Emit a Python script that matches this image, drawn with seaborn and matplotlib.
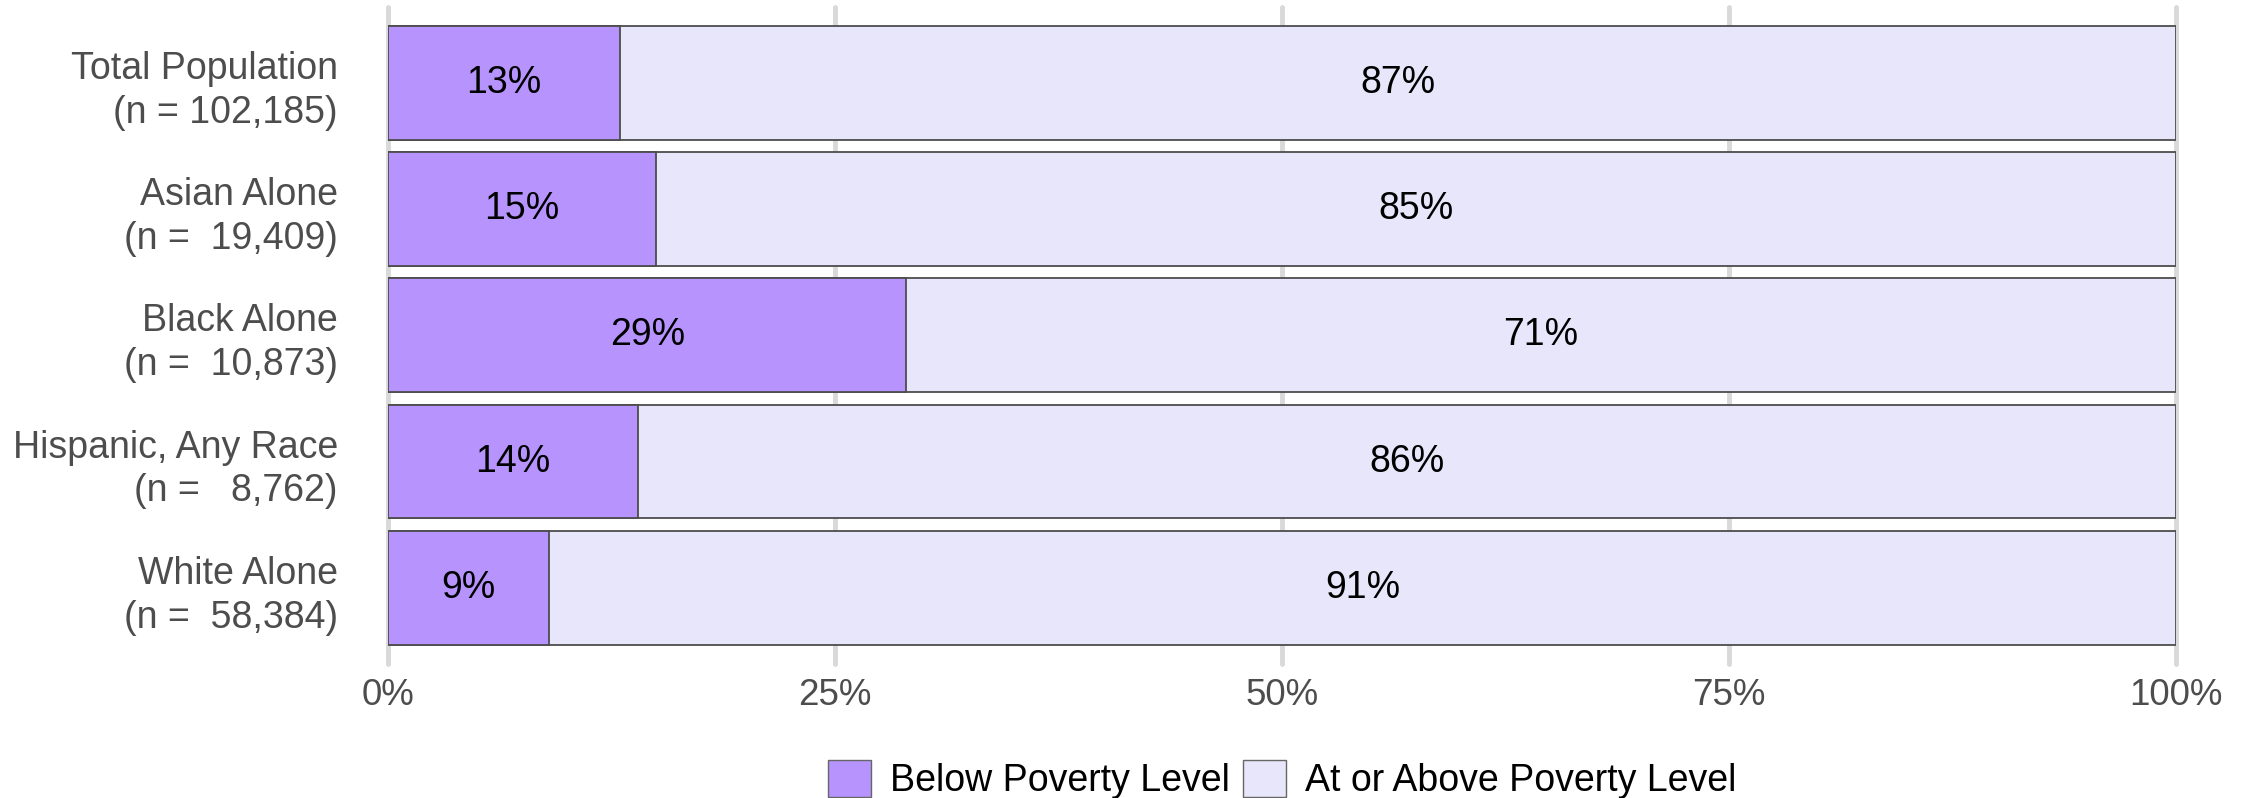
import matplotlib
matplotlib.use("Agg")
import matplotlib.pyplot as plt
from matplotlib.patches import Patch
import seaborn as sns
import pandas as pd

# Poverty status by race / ethnicity (percent of each group)
groups = ["Total Population", "Asian Alone", "Black Alone",
          "Hispanic, Any Race", "White Alone"]
sample_sizes = [102185, 19409, 10873, 8762, 58384]
below_pct = [13, 15, 29, 14, 9]
above_pct = [87, 85, 71, 86, 91]
x_ticks = [0, 25, 50, 75, 100]
x_tick_labels = ["0%", "25%", "50%", "75%", "100%"]
legend_labels = ["Below Poverty Level", "At or Above Poverty Level"]

BELOW_COLOR = "#B794FD"
ABOVE_COLOR = "#E7E6FA"
EDGE_COLOR = "#4D4D4D"
GRID_COLOR = "#D9D9D9"
TEXT_GREY = "#4D4D4D"
FS = 27

sns.set_theme(style="white")
plt.rcParams["font.family"] = ["Liberation Sans", "DejaVu Sans"]

labels = [f"{g}\n(n = {n:>7,})" for g, n in zip(groups, sample_sizes)]
df = pd.DataFrame({"group": labels, "below": below_pct, "above": above_pct})
df["total"] = df["below"] + df["above"]

fig = plt.figure(figsize=(22.49, 7.98), dpi=100)
ax = fig.add_axes([0.1725, 0.1683, 0.795, 0.823])

# full-length bar (below + above) first, then the "below" share on top of it
sns.barplot(data=df, y="group", x="total", orient="h", color=ABOVE_COLOR,
            saturation=1, width=0.9, edgecolor=EDGE_COLOR, linewidth=1.3,
            ax=ax, zorder=2)
sns.barplot(data=df, y="group", x="below", orient="h", color=BELOW_COLOR,
            saturation=1, width=0.9, edgecolor=EDGE_COLOR, linewidth=1.3,
            ax=ax, zorder=3)

for i, (b, a) in enumerate(zip(below_pct, above_pct)):
    ax.text(b / 2, i, f"{b}%", ha="center", va="center",
            fontsize=FS, color="black", zorder=4)
    ax.text(b + a / 2, i, f"{a}%", ha="center", va="center",
            fontsize=FS, color="black", zorder=4)

ax.set_xlim(0, 100)
ax.set_ylim(4.6, -0.6)
ax.set_xticks(x_ticks)
ax.set_xticklabels(x_tick_labels)
ax.set_xlabel("")
ax.set_ylabel("")
for s in ax.spines.values():
    s.set_visible(False)

ax.grid(axis="x", color=GRID_COLOR, linewidth=3.5)
ax.grid(axis="y", visible=False)
ax.set_axisbelow(True)
for gl in ax.get_xgridlines():
    gl.set_clip_on(False)
    gl.set_zorder(0)

ax.tick_params(axis="x", length=0, pad=10, labelsize=26.5, labelcolor=TEXT_GREY)
ax.tick_params(axis="y", length=0, pad=36, labelsize=FS, labelcolor=TEXT_GREY)
for lab in ax.get_yticklabels():
    lab.set_horizontalalignment("right")
    lab.set_multialignment("right")
    lab.set_linespacing(1.28)

handles = [Patch(facecolor=BELOW_COLOR, edgecolor="#666666", linewidth=1),
           Patch(facecolor=ABOVE_COLOR, edgecolor="#666666", linewidth=1)]
fig.legend(handles, legend_labels, loc="center", bbox_to_anchor=(0.570, 0.023),
           ncol=2, frameon=False, fontsize=FS, handlelength=1.15,
           handleheight=1.15, handletextpad=0.5, columnspacing=0.35,
           borderpad=0, labelcolor="black")

fig.savefig("out.png", dpi=100)
